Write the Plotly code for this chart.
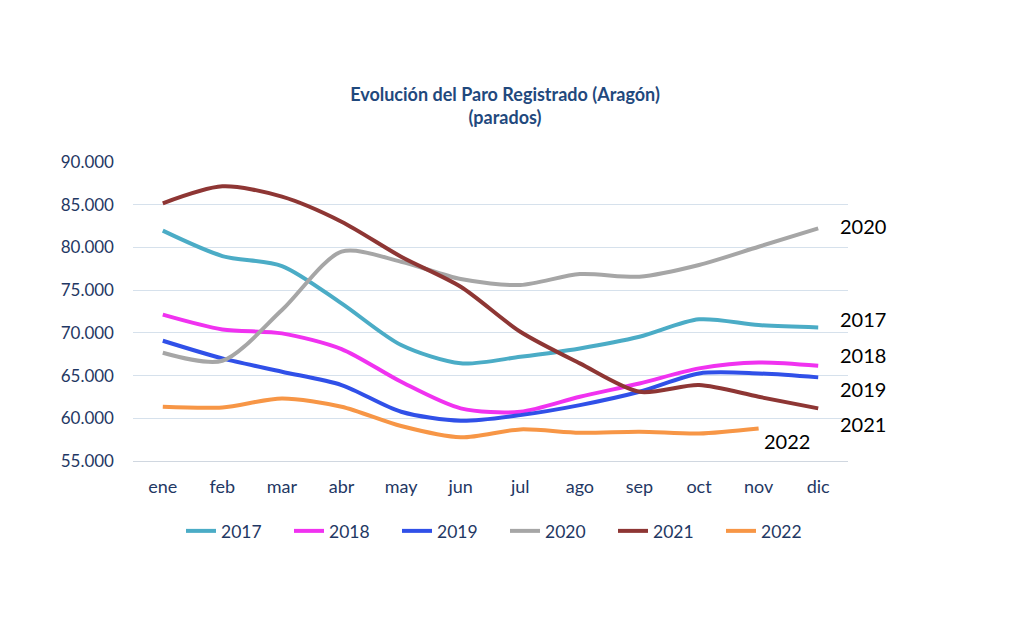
import plotly.graph_objects as go

months = ["ene", "feb", "mar", "abr", "may", "jun", "jul", "ago", "sep", "oct", "nov", "dic"]
y2017 = [81960, 78990, 77820, 73450, 68570, 66430, 67200, 68180, 69540, 71580, 70910, 70640]
y2018 = [72130, 70400, 69940, 68100, 64270, 61160, 60760, 62520, 64080, 65840, 66540, 66150]
y2019 = [69080, 67010, 65450, 63890, 60760, 59710, 60370, 61540, 63100, 65250, 65250, 64790]
y2020 = [67670, 66730, 72670, 79500, 78330, 76300, 75600, 76880, 76570, 77940, 80080, 82230]
y2021 = [85160, 87150, 85940, 83010, 78910, 75400, 70130, 66430, 63100, 63890, 62520, 61160]
y2022 = [61350, 61270, 62320, 61350, 59090, 57770, 58700, 58310, 58430, 58220, 58810]

series = [
    ("2017", y2017, "#4BACC6"),
    ("2018", y2018, "#F032F0"),
    ("2019", y2019, "#3050E8"),
    ("2020", y2020, "#A6A6A6"),
    ("2021", y2021, "#8E3634"),
    ("2022", y2022, "#F79646"),
]
# label offsets (pixels) for the end labels
label_shift = {"2020": (20, 2), "2017": (20, 8), "2018": (20, 11), "2019": (20, -12),
               "2021": (20, -16), "2022": (3, -13)}

fig = go.Figure()
for name, vals, col in series:
    fig.add_trace(go.Scatter(
        x=months[:len(vals)], y=vals, name=name, mode="lines",
        line=dict(color=col, width=4, shape="spline", smoothing=0.8),
    ))
    xs, ys = label_shift[name]
    fig.add_annotation(
        x=months[len(vals) - 1], y=vals[-1], text=name, showarrow=False,
        xanchor="left", yanchor="middle", xshift=xs, yshift=ys,
        font=dict(family="Lato, Carlito, sans-serif", size=20, color="#000000"),
    )

fig.update_layout(
    width=1010, height=620,
    margin=dict(l=133, r=162, t=162, b=159),
    paper_bgcolor="white", plot_bgcolor="white",
    separators=",.",
    font=dict(family="Lato, Carlito, sans-serif", color="#1F3864"),
    title=dict(
        text="<b>Evolución del Paro Registrado (Aragón)</b><br><b>(parados)</b>",
        x=0.5, xref="container", xanchor="center",
        y=1 - 101 / 620, yref="container", yanchor="middle",
        font=dict(size=18, color="#1F497D"),
    ),
    xaxis=dict(
        type="category", range=[-0.5, 11.5], showgrid=False,
        showline=True, linecolor="#D0D7E0", linewidth=1,
        tickfont=dict(size=18, color="#1F3864"), ticks="", ticklabelstandoff=9,
    ),
    yaxis=dict(
        range=[55000, 90000], dtick=5000, tickformat=",d",
        showgrid=True, gridcolor="#D6E1EC", gridwidth=1, zeroline=False,
        tickfont=dict(size=17, color="#1F3864"), ticks="", ticklabelstandoff=18,
    ),
    legend=dict(
        orientation="h", x=0.5, xref="container", xanchor="center",
        y=1 - 531 / 620, yref="container", yanchor="middle",
        font=dict(size=17.5, color="#1F3864"), entrywidth=63, traceorder="normal",
    ),
    showlegend=True,
)

fig.write_html("out.html")
